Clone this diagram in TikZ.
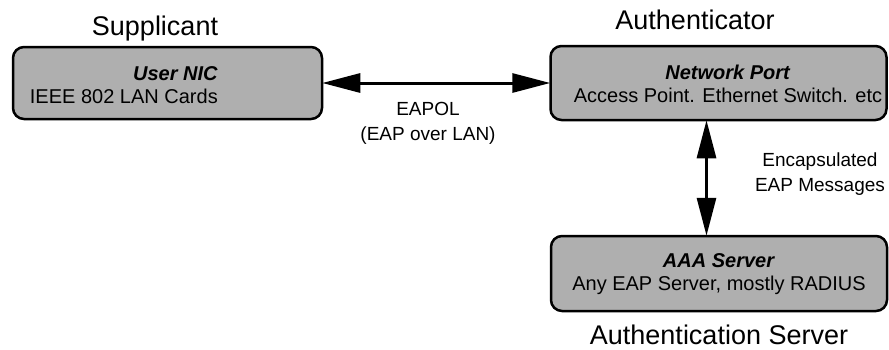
\documentclass[tikz,border=0pt]{standalone}
\usepackage{fontspec}
\setmainfont{Liberation Sans}
\usetikzlibrary{arrows.meta}
\definecolor{boxgray}{RGB}{175,175,175}
\tikzset{
  box/.style={draw=black, line width=2.5pt, rounded corners=11pt, fill=boxgray, inner sep=0pt},
  boxtext/.style={font=\fontsize{20}{23}\selectfont, inner sep=0pt},
  title/.style={font=\fontsize{27}{30}\selectfont, inner sep=0pt},
  lbl/.style={font=\fontsize{19}{25}\selectfont, align=center, inner sep=0pt},
  biarrow/.style={line width=3pt, {Triangle[length=38pt,width=19pt]}-{Triangle[length=38pt,width=19pt]}, shorten <=-1pt, shorten >=-1pt}
}
\begin{document}
\begin{tikzpicture}[x=1pt,y=-1pt]
\useasboundingbox (0,0) rectangle (889,349);
% boxes
\node[box, minimum width=309pt, minimum height=72pt] (sup) at (167.5,83) {};
\node[box, minimum width=336pt, minimum height=74pt] (net) at (718.5,83) {};
\node[box, minimum width=336pt, minimum height=75pt] (aaa) at (719,273.5) {};
% box texts
\node[boxtext, align=right, anchor=east] (suptxt) at (218,85) {\textbf{\textit{User NIC}}\\IEEE 802 LAN Cards};
\node[boxtext, align=center] (nettxt) at (728,84) {\textbf{\textit{Network Port}}\\Access Point. Ethernet Switch. etc};
\node[boxtext, align=center] (aaatxt) at (719,274) {\textbf{\textit{AAA Server}}\\Any EAP Server, mostly RADIUS};
% titles
\node[title] (t1) at (155,29) {Supplicant};
\node[title] (t2) at (695,20) {Authenticator};
\node[title] (t3) at (719,335) {Authentication Server};
% connectors
\draw[biarrow] (sup.east) -- (sup.east -| net.west);
\draw[biarrow] ([xshift=-12pt]net.south) -- ([xshift=-12pt]net.south |- aaa.north);
% labels
\node[lbl] (l1) at (428,123) {EAPOL\\(EAP over LAN)};
\node[lbl] (l2) at (820,174) {Encapsulated\\EAP Messages};
\end{tikzpicture}
\end{document}
